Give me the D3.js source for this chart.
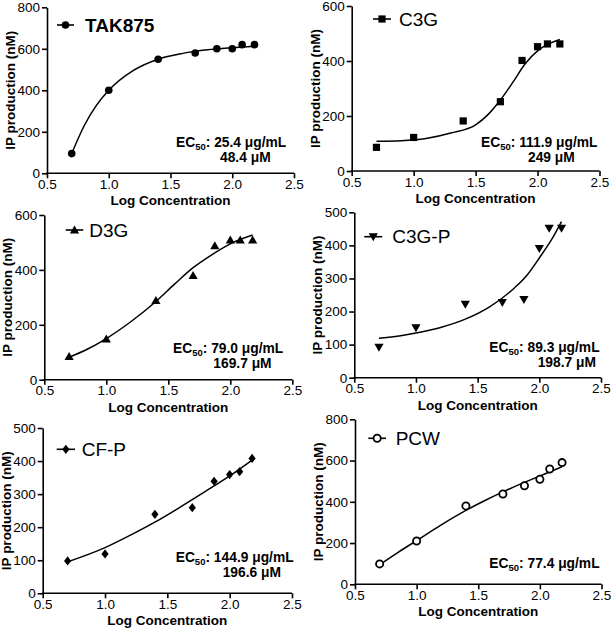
<!DOCTYPE html>
<html>
<head>
<meta charset="utf-8">
<script src="https://cdn.jsdelivr.net/npm/d3@7"></script>
<style>
  html, body { margin: 0; padding: 0; background: #fff; }
  svg { display: block; font-family: "Liberation Sans", Arial, sans-serif; }
</style>
</head>
<body>
<svg id="chart" width="611" height="633"></svg>
<script>
// ---------- data ----------
const logConc = [0.7, 1.0, 1.4, 1.7, 1.875, 2.0, 2.08, 2.18];

const tak875 = [95, 400, 550, 580, 600, 600, 620, 620];
const c3g    = [86, 122, 182, 252, 402, 452, 462, 462];
const d3g    = [84, 148, 288, 379, 488, 509, 509, 509];
const c3gp   = [92, 151, 222, 228, 237, 391, 452, 452];
const cfp    = [98, 119, 239, 259, 339, 359, 368, 408];
const pcw    = [99, 210, 380, 438, 478, 509, 559, 590];

// fitted curves: [logConc, value]
const tak875Fit = [[0.7,95],[0.8,228],[0.9,327],[1.0,400],[1.2,496],[1.4,550],[1.6,578],[1.8,595],[2.0,605],[2.18,612]];
const c3gFit    = [[0.7,108],[0.9,110],[1.1,118],[1.3,138],[1.5,168],[1.6,205],[1.7,258],[1.8,322],[1.9,390],[2.0,437],[2.1,464],[2.18,478]];
const d3gFit    = [[0.7,82],[0.85,112],[1.0,150],[1.2,212],[1.4,285],[1.55,348],[1.7,408],[1.85,455],[2.0,495],[2.18,527]];
const c3gpFit   = [[0.7,119],[0.9,128],[1.0,135],[1.2,152],[1.4,177],[1.6,215],[1.8,272],[1.9,310],[2.0,362],[2.1,418],[2.18,472]];
const cfpFit    = [[0.7,95],[1.0,138],[1.2,175],[1.4,215],[1.6,260],[1.8,307],[2.0,355],[2.18,403]];
const pcwFit    = [[0.7,95],[0.85,155],[1.0,212],[1.2,288],[1.4,358],[1.55,405],[1.7,448],[1.85,488],[2.0,525],[2.18,570]];

const seriesNames = ["TAK875", "C3G", "D3G", "C3G-P", "CF-P", "PCW"];
const ec50Mass  = ["25.4 μg/mL", "111.9 μg/mL", "79.0 μg/mL", "89.3 μg/mL", "144.9 μg/mL", "77.4 μg/mL"];
const ec50Molar = ["48.4 μM", "249 μM", "169.7 μM", "198.7 μM", "196.6 μM", ""];
const yMax   = [800, 600, 600, 500, 500, 800];
const yStep  = [200, 200, 200, 100, 100, 200];
const xTicks = [0.5, 1.0, 1.5, 2.0, 2.5];
const xTitle = "Log Concentration";
const yTitle = "IP production (nM)";

const values = [tak875, c3g, d3g, c3gp, cfp, pcw];
const fits = [tak875Fit, c3gFit, d3gFit, c3gpFit, cfpFit, pcwFit];

// ---------- layout ----------
const panels = [
  {x0: 47,  x1: 294, y0: 173.3, y1: 7.3,   marker: "circle",  legend: {lx0: 57,  lx1: 74,  ly: 25,  tx: 85,  ty: 32,  bold: true},  ec: {x1: 176, y1: 146.7, x2: 220, y2: 161.7}},
  {x0: 351.7, x1: 599.5, y0: 171, y1: 6,  marker: "square",  legend: {lx0: 373, lx1: 391, ly: 19,  tx: 399, ty: 25.5},  ec: {x1: 481, y1: 146.7, x2: 528, y2: 161.7}},
  {x0: 44.3, x1: 292.3, y0: 379.7, y1: 215, marker: "triUp", legend: {lx0: 65.7, lx1: 83.3, ly: 230, tx: 89.3, ty: 236.5}, ec: {x1: 173, y1: 353.3, x2: 213.3, y2: 368.3}},
  {x0: 354.3, x1: 601, y0: 377.7, y1: 212.3, marker: "triDown", legend: {lx0: 364.3, lx1: 382.3, ly: 236.7, tx: 392.3, ty: 243.2}, ec: {x1: 489.3, y1: 351.7, x2: 537.7, y2: 366.7}},
  {x0: 42.7, x1: 292, y0: 593.3, y1: 428, marker: "diamond", legend: {lx0: 56.7, lx1: 75, ly: 449.3, tx: 81.7, ty: 456}, ec: {x1: 175.7, y1: 561.7, x2: 222.7, y2: 576.7}},
  {x0: 355, x1: 601.5, y0: 584.3, y1: 419.3, marker: "openCircle", legend: {lx0: 368.3, lx1: 386, ly: 438.3, tx: 395.7, ty: 445}, ec: {x1: 489.3, y1: 568.3, x2: 0, y2: 0}}
];

const svg = d3.select("#chart");

function drawMarker(g, type, cx, cy) {
  if (type === "circle") {
    g.append("circle").attr("cx", cx).attr("cy", cy).attr("r", 3.8).attr("fill", "#000");
  } else if (type === "openCircle") {
    g.append("circle").attr("cx", cx).attr("cy", cy).attr("r", 3.6).attr("fill", "#fff").attr("stroke", "#000").attr("stroke-width", 1.8);
  } else if (type === "square") {
    g.append("rect").attr("x", cx - 3.6).attr("y", cy - 3.6).attr("width", 7.2).attr("height", 7.2).attr("fill", "#000");
  } else if (type === "triUp") {
    g.append("path").attr("d", `M${cx},${cy-4.6}L${cx+4.6},${cy+3.4}L${cx-4.6},${cy+3.4}Z`).attr("fill", "#000");
  } else if (type === "triDown") {
    g.append("path").attr("d", `M${cx},${cy+4.6}L${cx+4.6},${cy-3.4}L${cx-4.6},${cy-3.4}Z`).attr("fill", "#000");
  } else if (type === "diamond") {
    g.append("path").attr("d", `M${cx},${cy-4.6}L${cx+3.6},${cy}L${cx},${cy+4.6}L${cx-3.6},${cy}Z`).attr("fill", "#000");
  }
}

panels.forEach((p, i) => {
  const g = svg.append("g");
  const x = d3.scaleLinear().domain([0.5, 2.5]).range([p.x0, p.x1]);
  const y = d3.scaleLinear().domain([0, yMax[i]]).range([p.y0, p.y1]);

  const yTicks = d3.range(0, yMax[i] + 1, yStep[i]);

  const xAxis = g.append("g").attr("transform", `translate(0,${p.y0})`)
    .call(d3.axisBottom(x).tickValues(xTicks).tickFormat(d3.format(".1f")).tickSize(5).tickPadding(1).tickSizeOuter(0));
  const yAxis = g.append("g").attr("transform", `translate(${p.x0},0)`)
    .call(d3.axisLeft(y).tickValues(yTicks).tickFormat(d3.format("d")).tickSize(5).tickPadding(2).tickSizeOuter(0));

  [xAxis, yAxis].forEach(a => {
    a.select(".domain").attr("stroke", "#000").attr("stroke-width", 1.6);
    a.selectAll(".tick line").attr("stroke", "#000").attr("stroke-width", 1.6);
    a.selectAll(".tick text").attr("fill", "#000").attr("font-size", 13.5)
      .attr("font-family", "'Liberation Sans', Arial, sans-serif");
  });
  xAxis.select(".domain").attr("d", `M${p.x0 - 0.8},0H${p.x1}`);

  // axis titles
  g.append("text").attr("x", (p.x0 + p.x1) / 2).attr("y", p.y0 + 32)
    .attr("text-anchor", "middle").attr("font-size", 13.5).attr("font-weight", "bold").text(xTitle);
  g.append("text").attr("transform", `translate(${p.x0 - 32},${(p.y0 + p.y1) / 2}) rotate(-90)`)
    .attr("text-anchor", "middle").attr("font-size", 13.5).attr("font-weight", "bold").text(yTitle);

  // fit curve
  const line = d3.line().x(d => x(d[0])).y(d => y(d[1])).curve(d3.curveMonotoneX);
  g.append("path").datum(fits[i]).attr("d", line).attr("fill", "none").attr("stroke", "#000").attr("stroke-width", 1.5);

  // points
  logConc.forEach((c, j) => drawMarker(g, p.marker, x(c), y(values[i][j])));

  // legend
  const L = p.legend;
  g.append("line").attr("x1", L.lx0).attr("x2", L.lx1).attr("y1", L.ly).attr("y2", L.ly)
    .attr("stroke", "#000").attr("stroke-width", 1.6);
  drawMarker(g, p.marker, (L.lx0 + L.lx1) / 2, L.ly);
  g.append("text").attr("x", L.tx).attr("y", L.ty).attr("font-size", 19)
    .attr("font-weight", L.bold ? "bold" : "normal").text(seriesNames[i]);

  // EC50 annotation
  const E = p.ec;
  const t1 = g.append("text").attr("x", E.x1).attr("y", E.y1).attr("font-size", 13.8).attr("font-weight", "bold");
  t1.append("tspan").text("EC");
  t1.append("tspan").attr("font-size", 9.5).attr("dy", 3).text("50");
  t1.append("tspan").attr("dy", -3).text(": " + ec50Mass[i]);
  if (ec50Molar[i]) {
    g.append("text").attr("x", E.x2).attr("y", E.y2).attr("font-size", 13.8).attr("font-weight", "bold").text(ec50Molar[i]);
  }
});
</script>
</body>
</html>
